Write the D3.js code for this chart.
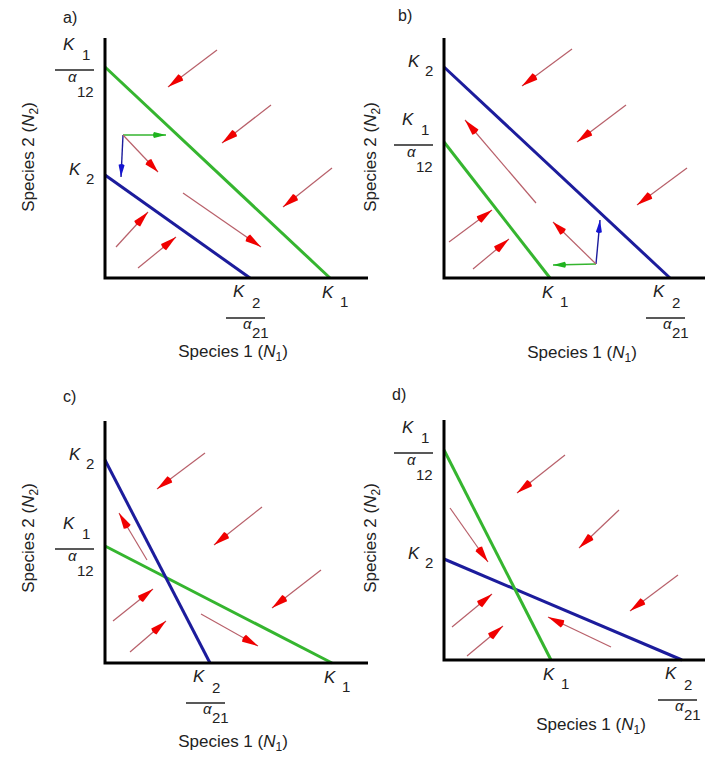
<!DOCTYPE html>
<html>
<head>
<meta charset="utf-8">
<script src="https://cdn.jsdelivr.net/npm/d3@7"></script>
<style>
  body { margin: 0; background: #fff; }
  svg { display: block; font-family: "Liberation Sans", Arial, sans-serif; }
</style>
</head>
<body>
<div id="chart"></div>
<script>
// Lotka-Volterra competition isoclines, four cases (units ~ pixels of the original)
const panelNames = ["a)", "b)", "c)", "d)"];

// species 1 isocline (green): N2 intercept K1/a12, N1 intercept K1
const greenN2 = [211, 136, 117, 210];
const greenN1 = [225, 106, 227, 107];
// species 2 isocline (blue): N2 intercept K2, N1 intercept K2/a21
const blueN2 = [103, 211, 203, 101];
const blueN1 = [145, 226, 105, 238];

// red trajectory arrows [N1 start, N2 start, N1 end, N2 end]
const arrowsA = [[112, 228, 63, 191], [166, 173, 117, 135], [227, 110, 178, 71],
                 [11, 31, 43, 66], [33, 10, 71, 41], [78, 85, 156, 31]];
const arrowsB = [[128, 229, 78, 192], [182, 173, 133, 136], [243, 110, 193, 73],
                 [5, 36, 48, 68], [29, 9, 65, 39], [92, 75, 21, 158]];
const arrowsC = [[100, 210, 52, 174], [157, 156, 109, 118], [216, 93, 167, 55],
                 [8, 42, 48, 74], [25, 11, 61, 42], [42, 103, 14, 150], [96, 49, 153, 17]];
const arrowsD = [[121, 205, 73, 167], [175, 150, 135, 112], [234, 85, 186, 49],
                 [6, 152, 44, 98], [8, 33, 48, 66], [23, 4, 59, 34], [167, 13, 104, 43]];
const arrowSets = [arrowsA, arrowsB, arrowsC, arrowsD];

// vector decomposition diagrams (panels a and b): origin, resultant, dN1, dN2
const vecOrigin = [[18, 143], [152, 14]];
const vecRed = [[53, 106], [109, 56]];
const vecGreen = [[61, 143], [109, 13]];
const vecBlue = [[16, 101], [156, 58]];

const width = 709, height = 759;
const svg = d3.select("#chart").append("svg")
    .attr("width", width)
    .attr("height", height);

// panel frames: origin pixel, axis lengths
const frames = [
    { ox: 105, oy: 278, w: 263, h: 240, lab: [63, 23], xt: [233, 357], yt: [28, 157] },
    { ox: 444, oy: 278, w: 261, h: 240, lab: [398, 21], xt: [582, 358], yt: [370, 157] },
    { ox: 105, oy: 663, w: 263, h: 242, lab: [63, 402], xt: [233, 747], yt: [28, 538] },
    { ox: 444, oy: 660, w: 261, h: 240, lab: [392, 400], xt: [591, 730], yt: [370, 538] }
];

const green = "#35b52f", blue = "#1c1c9c", red = "#f00000", shaft = "#b8606a";

function head(g, x1, y1, x2, y2, color, len, w) {
    const ang = Math.atan2(y2 - y1, x2 - x1) * 180 / Math.PI;
    g.append("path")
        .attr("d", `M0,0 L${-len},${-w / 2} Q${-len - 2},0 ${-len},${w / 2} Z`)
        .attr("transform", `translate(${x2},${y2}) rotate(${ang})`)
        .attr("fill", color);
}

function arrow(g, x, y, d, lineColor, headColor, len, w, sw) {
    const x1 = x(d[0]), y1 = y(d[1]), x2 = x(d[2]), y2 = y(d[3]);
    g.append("line")
        .attr("x1", x1).attr("y1", y1).attr("x2", x2).attr("y2", y2)
        .attr("stroke", lineColor).attr("stroke-width", sw);
    head(g, x1, y1, x2, y2, headColor, len, w);
}

function kText(g, x, y, txt, italic, size) {
    g.append("text").attr("x", x).attr("y", y)
        .attr("font-size", size)
        .attr("font-style", italic ? "italic" : "normal")
        .attr("fill", "#222")
        .text(txt);
}

// K_i label beside a value on an axis
function yLabelSimple(g, ox, yv, sub) {
    kText(g, ox - 36, yv, "K", true, 17);
    kText(g, ox - 19, yv + 9, sub, false, 15);
}
function yLabelFrac(g, ox, yv, sub, dsub) {
    const ly = yv + 3;
    g.append("line").attr("x1", ox - 50).attr("x2", ox - 11)
        .attr("y1", ly).attr("y2", ly).attr("stroke", "#222").attr("stroke-width", 1.3);
    kText(g, ox - 42, ly - 20, "K", true, 17);
    kText(g, ox - 23, ly - 10, sub, false, 15);
    kText(g, ox - 37, ly + 12, "α", true, 15);
    kText(g, ox - 28, ly + 27, dsub, false, 15);
}
function xLabelSimple(g, xv, oy, sub) {
    kText(g, xv - 8, oy + 20, "K", true, 17);
    kText(g, xv + 10, oy + 29, sub, false, 15);
}
function xLabelFrac(g, xv, oy, sub, dsub) {
    const ly = oy + 40;
    g.append("line").attr("x1", xv - 24).attr("x2", xv + 15)
        .attr("y1", ly).attr("y2", ly).attr("stroke", "#222").attr("stroke-width", 1.3);
    kText(g, xv - 17, oy + 19, "K", true, 17);
    kText(g, xv + 2, oy + 30, sub, false, 15);
    kText(g, xv - 7, oy + 51, "α", true, 15);
    kText(g, xv + 2, oy + 60, dsub, false, 15);
}

frames.forEach((f, i) => {
    const g = svg.append("g");
    const x = d3.scaleLinear().domain([0, f.w]).range([f.ox, f.ox + f.w]);
    const y = d3.scaleLinear().domain([0, f.h]).range([f.oy, f.oy - f.h]);

    // panel label
    g.append("text").attr("x", f.lab[0]).attr("y", f.lab[1])
        .attr("font-size", 16).attr("fill", "#222").text(panelNames[i]);

    // isoclines
    const iso = [
        { n2: greenN2[i], n1: greenN1[i], c: green },
        { n2: blueN2[i], n1: blueN1[i], c: blue }
    ];
    // draw green on top in panels where it was drawn last
    const order = (i === 0 || i === 3) ? [1, 0] : [0, 1];
    order.forEach(k => {
        g.append("line")
            .attr("x1", x(0)).attr("y1", y(iso[k].n2))
            .attr("x2", x(iso[k].n1)).attr("y2", y(0))
            .attr("stroke", iso[k].c).attr("stroke-width", 3);
    });

    // trajectory arrows
    arrowSets[i].forEach(d => arrow(g, x, y, d, shaft, red, 16, 8, 1.2));

    // vector decomposition
    if (i < 2) {
        const o = vecOrigin[i];
        arrow(g, x, y, [o[0], o[1], vecGreen[i][0], vecGreen[i][1]], green, "#1fb31f", 12, 6, 1.4);
        arrow(g, x, y, [o[0], o[1], vecBlue[i][0], vecBlue[i][1]], blue, "#1515d0", 12, 6, 1.4);
        arrow(g, x, y, [o[0], o[1], vecRed[i][0], vecRed[i][1]], shaft, red, 14, 8, 1.2);
    }

    // axes
    g.append("path")
        .attr("d", `M${x(0)},${y(f.h)} L${x(0)},${y(0)} L${x(f.w)},${y(0)}`)
        .attr("fill", "none").attr("stroke", "#000").attr("stroke-width", 3);

    // axis value labels
    yLabelFrac(g, f.ox, y(greenN2[i]), "1", "12");
    yLabelSimple(g, f.ox, y(blueN2[i]), "2");
    xLabelSimple(g, x(greenN1[i]), f.oy, "1");
    xLabelFrac(g, x(blueN1[i]), f.oy, "2", "21");

    // axis titles
    const xt = g.append("text").attr("x", f.xt[0]).attr("y", f.xt[1])
        .attr("text-anchor", "middle").attr("font-size", 17).attr("fill", "#222");
    xt.append("tspan").text("Species 1 (");
    xt.append("tspan").attr("font-style", "italic").text("N");
    xt.append("tspan").attr("font-size", 12).attr("dy", 4).text("1");
    xt.append("tspan").attr("dy", -4).text(")");

    const yt = g.append("text")
        .attr("transform", `translate(${f.yt[0]},${f.yt[1]}) rotate(-90)`)
        .attr("text-anchor", "middle").attr("dy", 6).attr("font-size", 17).attr("fill", "#222");
    yt.append("tspan").text("Species 2 (");
    yt.append("tspan").attr("font-style", "italic").text("N");
    yt.append("tspan").attr("font-size", 12).attr("dy", 4).text("2");
    yt.append("tspan").attr("dy", -4).text(")");
});
</script>
</body>
</html>
